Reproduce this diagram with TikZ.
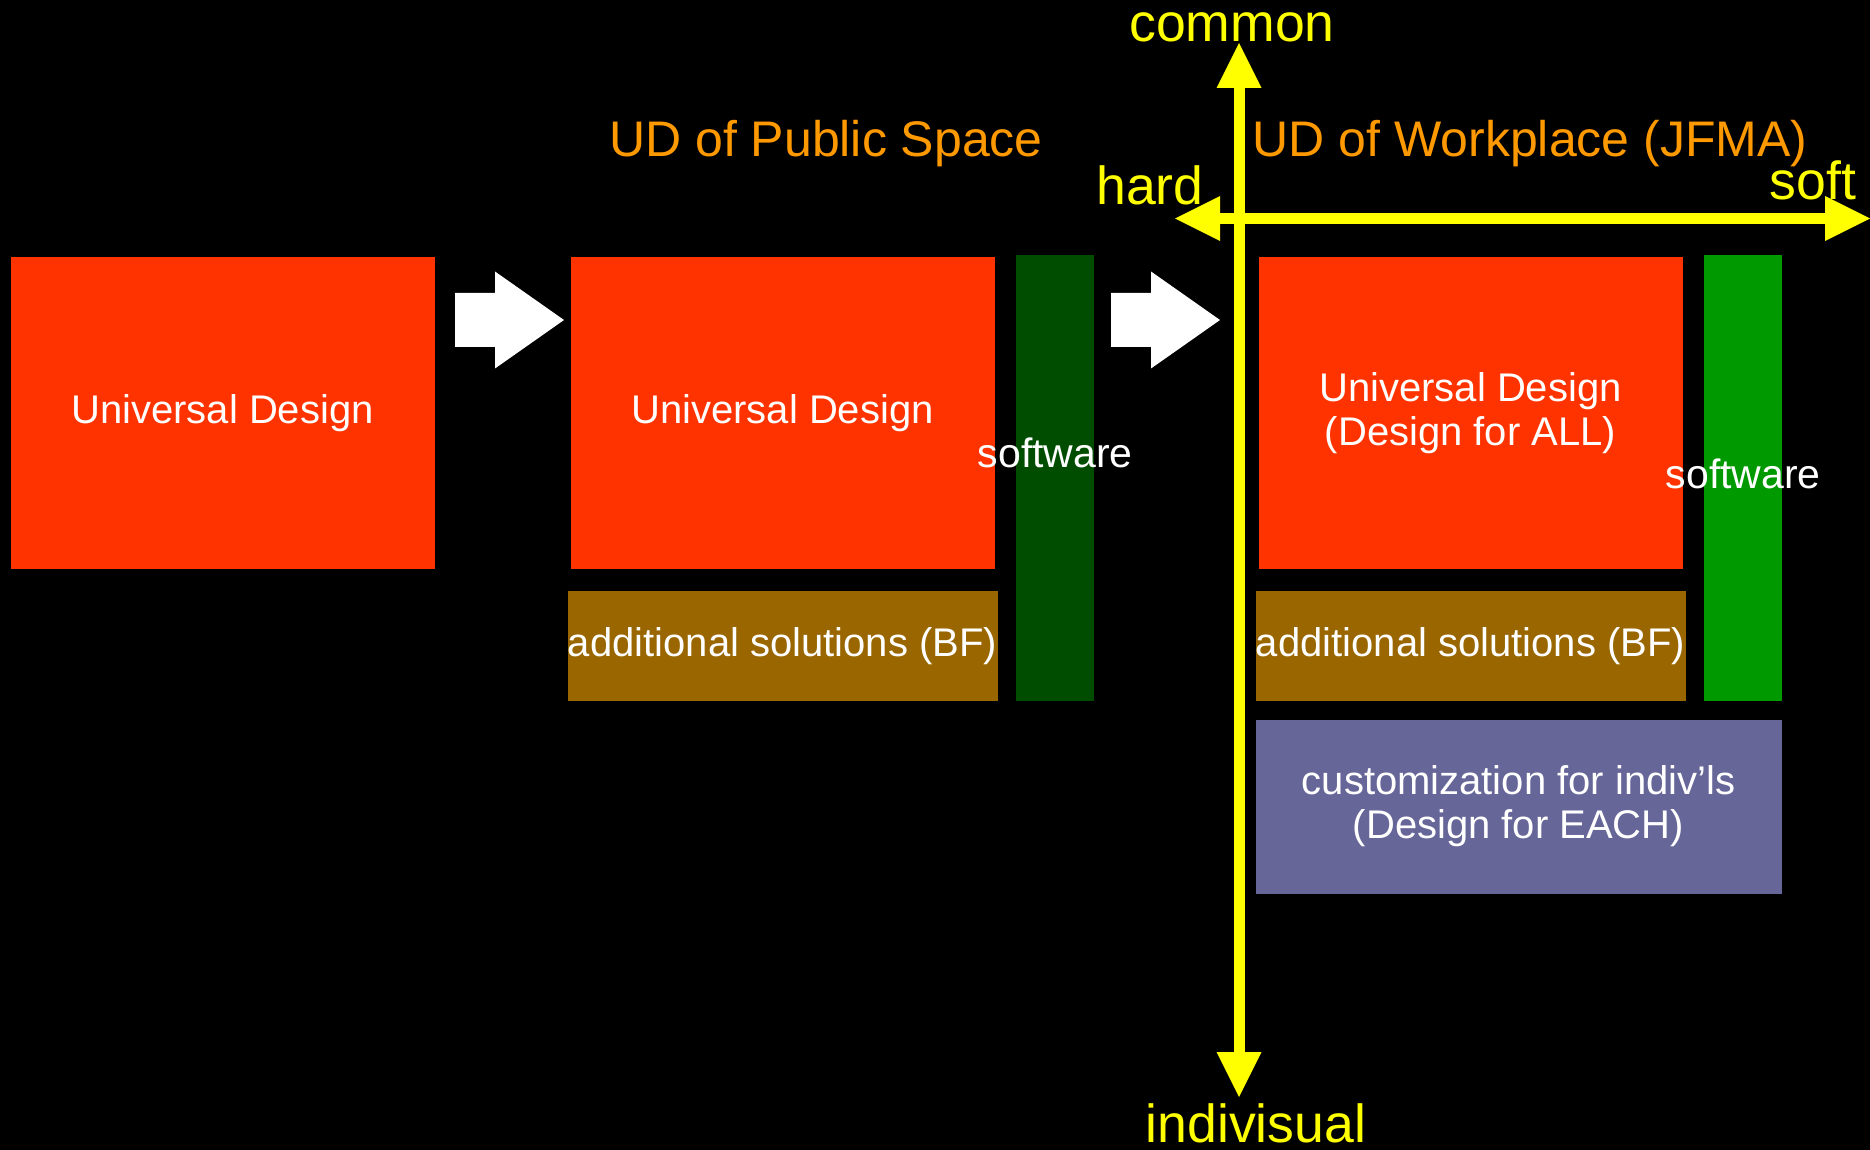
\documentclass[tikz,border=0pt]{standalone}
\usepackage{fontspec}
\setmainfont{Liberation Sans}
\usetikzlibrary{positioning,calc}

\definecolor{udRed}{HTML}{FF3300}
\definecolor{bfBrown}{HTML}{996600}
\definecolor{swDark}{HTML}{004D00}
\definecolor{swGreen}{HTML}{009900}
\definecolor{eachPurple}{HTML}{666699}
\definecolor{titleOrange}{HTML}{FF9900}
\definecolor{axisYellow}{HTML}{FFFF00}

\tikzset{
    udbox/.style = {fill = udRed, text = white, minimum width = 212pt, minimum height = 156pt,
                    inner sep = 0pt, align = center, font = \fontsize{20}{22}\selectfont},
    bfbox/.style = {fill = bfBrown, text = white, minimum width = 215pt, minimum height = 55pt,
                    inner sep = 0pt, font = \fontsize{20}{22}\selectfont},
    swbar/.style = {minimum width = 39pt, minimum height = 223pt, inner sep = 0pt},
    swtext/.style = {text = white, inner sep = 0pt, font = \fontsize{20.5}{22}\selectfont},
    eachbox/.style = {fill = eachPurple, text = white, minimum width = 263pt, minimum height = 87pt,
                      inner sep = 0pt, align = center, font = \fontsize{20}{22}\selectfont},
    stagetitle/.style = {text = titleOrange, inner sep = 0pt, anchor = base, font = \fontsize{25}{28}\selectfont},
    axislabel/.style = {text = axisYellow, inner sep = 0pt, anchor = base, font = \fontsize{26.8}{30}\selectfont},
    axisline/.style = {axisYellow, line width = 5.5pt, shorten < = 20pt, shorten > = 20pt}
}

\begin{document}
\begin{tikzpicture}[x = 0.5pt, y = -0.5pt]

        \useasboundingbox (0, 0) rectangle (1870, 1150);
        \fill[black] (0, 0) rectangle (1870, 1150);

        \def\shaftW{27}
        \def\headW{48.5}
        \def\tipL{45}
        \def\tipW{22.5}

        % draw block arrows between the stages
        \foreach \x in {455, 1111} {

            \begin{scope}[shift = {(\x, 320)}]

                \fill[white] (0, -\shaftW) -- (40, -\shaftW) -- (40, -\headW) -- (109, 0)
                    -- (40, \headW) -- (40, \shaftW) -- (0, \shaftW) -- cycle;

            \end{scope}

        }

        % draw the three stages
        \node[udbox] (ud1) at ( 222.5, 413) {Universal Design};

        \node[udbox] (ud2) at ( 782.5, 413) {Universal Design};
        \node[bfbox, below = 10.5pt of ud2] (bf2) {additional solutions (BF)};
        \node[swbar, fill = swDark, anchor = south west] (sw2) at ($(bf2.south east) + (18, 0)$) {};
        \node[swtext] (swt2) at ($(sw2.center) + (0, -25)$) {software};

        \node[udbox] (ud3) at (1470.5, 413) {Universal Design\\(Design for ALL)};
        \node[bfbox, below = 10.5pt of ud3] (bf3) {additional solutions (BF)};
        \node[swbar, fill = swGreen, anchor = south west] (sw3) at ($(bf3.south east) + (18, 0)$) {};
        \node[swtext] (swt3) at ($(sw3.center) + (0, -4)$) {software};
        \node[eachbox, anchor = north west] (each) at ($(bf3.south west) + (0, 18)$)
            {customization for indiv’ls\\(Design for EACH)};

        % stage titles
        \node[stagetitle] (pub)  at ( 826, 157) {UD of Public Space};
        \node[stagetitle] (work) at (1530, 157) {UD of Workplace (JFMA)};

        % draw axes common-indivisual and hard-soft
        \coordinate (Top)    at (1239, 43);
        \coordinate (Bottom) at (1239, 1097);
        \coordinate (Left)   at (1175, 218.5);
        \coordinate (Right)  at (1870, 218.5);

        \draw[axisline] (Left) to (Right);
        \draw[axisline] (Bottom) to (Top);

        % draw arrow tips of the axes
        \foreach \T/\ang in {Top/90, Bottom/270, Left/180, Right/0} {
            \begin{scope}[shift = {(\T)}, rotate = \ang]
                \fill[axisYellow] (0, 0) -- (-\tipL, -\tipW) -- (-\tipL, \tipW) -- cycle;
            \end{scope}
        }

        \node[axislabel] (common) at (1232, 42)   {common};
        \node[axislabel] (indiv)  at (1256, 1142) {indivisual};
        \node[axislabel] (hard)   at (1150, 205)  {hard};
        \node[axislabel] (soft)   at (1813, 200)  {soft};

    \end{tikzpicture}
\end{document}
